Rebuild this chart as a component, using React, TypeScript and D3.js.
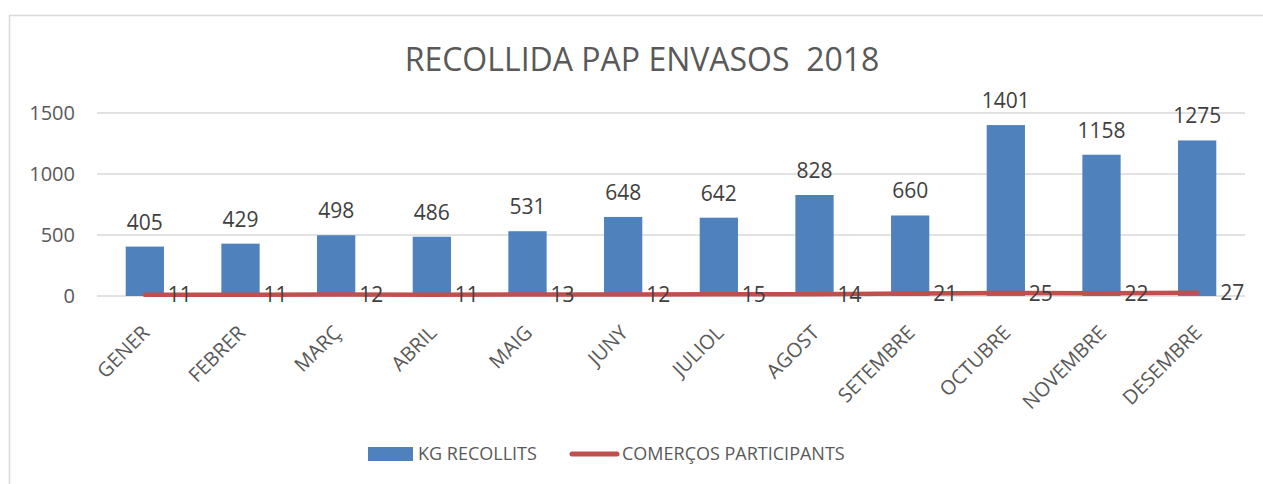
import React, { useEffect, useRef } from 'react';
import * as d3 from 'd3';

const months = ['GENER', 'FEBRER', 'MARÇ', 'ABRIL', 'MAIG', 'JUNY', 'JULIOL', 'AGOST', 'SETEMBRE', 'OCTUBRE', 'NOVEMBRE', 'DESEMBRE'];
const kgRecollits = [405, 429, 498, 486, 531, 648, 642, 828, 660, 1401, 1158, 1275];
const comercos = [11, 11, 12, 11, 13, 12, 15, 14, 21, 25, 22, 27];
const yTicks = [0, 500, 1000, 1500];

const App = () => {
  const svgRef = useRef<SVGSVGElement>(null);

  useEffect(() => {
    const svg = d3.select(svgRef.current);
    svg.selectAll('*').remove();

    const width = 1263;
    const height = 484;
    const font = '"Open Sans", sans-serif';
    const left = 97, right = 1245, top = 113, bottom = 296;

    // chart frame
    svg.append('rect')
      .attr('x', 9.5).attr('y', 15.5)
      .attr('width', 1400).attr('height', 600)
      .attr('fill', '#fff').attr('stroke', '#d9d9d9').attr('stroke-width', 1.5);

    const x = d3.scaleBand().domain(months).range([left, right]).paddingInner(0.6).paddingOuter(0.3);
    const y = d3.scaleLinear().domain([0, 1500]).range([bottom, top]);

    svg.append('text')
      .attr('x', 642).attr('y', 71)
      .attr('text-anchor', 'middle')
      .attr('font-family', font).attr('font-size', 32)
      .attr('fill', '#595959')
      .attr('xml:space', 'preserve')
      .text('RECOLLIDA PAP ENVASOS  2018');

    // gridlines + y axis labels
    svg.append('g').selectAll('line').data(yTicks).join('line')
      .attr('x1', left).attr('x2', right)
      .attr('y1', d => y(d)).attr('y2', d => y(d))
      .attr('stroke', '#d9d9d9').attr('stroke-width', 1.3);

    svg.append('g').selectAll('text').data(yTicks).join('text')
      .attr('x', 75).attr('y', d => y(d)).attr('dy', '0.36em')
      .attr('text-anchor', 'end')
      .attr('font-family', font).attr('font-size', 20)
      .attr('fill', '#595959')
      .text(d => d);

    const cx = (m: string) => (x(m) as number) + x.bandwidth() / 2;

    // bars
    svg.append('g').selectAll('rect').data(kgRecollits).join('rect')
      .attr('x', (d, i) => x(months[i]) as number)
      .attr('width', x.bandwidth())
      .attr('y', d => y(d))
      .attr('height', d => bottom - y(d))
      .attr('fill', '#4f81bd');

    svg.append('g').selectAll('text').data(kgRecollits).join('text')
      .attr('x', (d, i) => cx(months[i]))
      .attr('y', d => y(d) - 17)
      .attr('text-anchor', 'middle')
      .attr('font-family', font).attr('font-size', 21)
      .attr('fill', '#404040')
      .text(d => d);

    // line
    const line = d3.line<number>()
      .x((d, i) => cx(months[i]))
      .y(d => y(d));

    svg.append('path')
      .datum(comercos)
      .attr('d', line)
      .attr('fill', 'none')
      .attr('stroke', '#c0504d')
      .attr('stroke-width', 4.5)
      .attr('stroke-linecap', 'round')
      .attr('stroke-linejoin', 'round');

    svg.append('g').selectAll('text').data(comercos).join('text')
      .attr('x', (d, i) => cx(months[i]) + 23)
      .attr('y', d => y(d)).attr('dy', '0.36em')
      .attr('font-family', font).attr('font-size', 21)
      .attr('fill', '#404040')
      .text(d => d);

    // x axis labels
    svg.append('g').selectAll('text').data(months).join('text')
      .attr('transform', m => `translate(${cx(m) + 6},${bottom + 38}) rotate(-45)`)
      .attr('text-anchor', 'end')
      .attr('font-family', font).attr('font-size', 20)
      .attr('fill', '#595959')
      .text(m => m);

    // legend
    const lg = svg.append('g').attr('font-family', font).attr('font-size', 18).attr('fill', '#595959');
    lg.append('rect').attr('x', 368).attr('y', 447).attr('width', 45).attr('height', 14).attr('fill', '#4f81bd');
    lg.append('text').attr('x', 418).attr('y', 454).attr('dy', '0.36em').text('KG RECOLLITS');
    lg.append('line').attr('x1', 572).attr('x2', 617).attr('y1', 454).attr('y2', 454)
      .attr('stroke', '#c0504d').attr('stroke-width', 5).attr('stroke-linecap', 'round');
    lg.append('text').attr('x', 622).attr('y', 454).attr('dy', '0.36em').text('COMERÇOS PARTICIPANTS');

    svg.attr('width', width).attr('height', height);
  }, []);

  return <svg ref={svgRef} width={1263} height={484} style={{ position: 'absolute', left: 0, top: 0 }} />;
};

export default App;
